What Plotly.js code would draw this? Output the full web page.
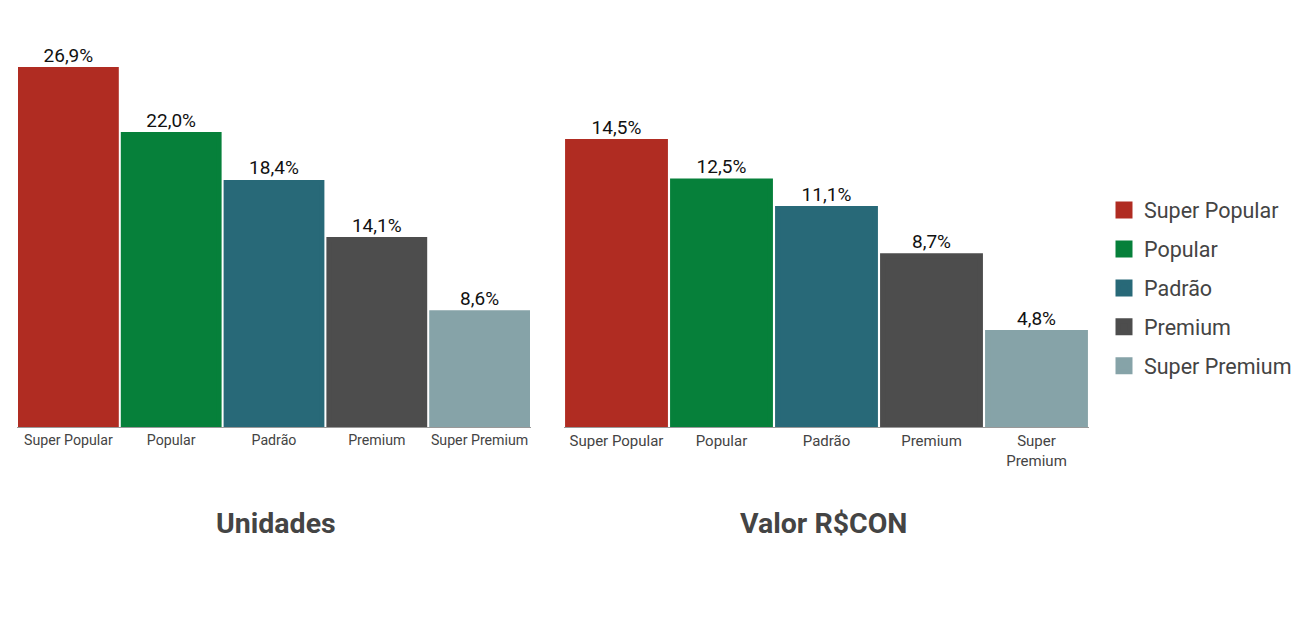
<!DOCTYPE html>
<html>
<head>
<meta charset="utf-8">
<script src="https://cdn.plot.ly/plotly-3.0.1.min.js"></script>
<style>
  body { margin: 0; background: #fff; }
  #chart { width: 1312px; height: 617px; }
</style>
</head>
<body>
<div id="chart"></div>
<script>
// categorias e valores (%)
const categorias = ["Super Popular", "Popular", "Padrão", "Premium", "Super Premium"];
const rotulosValor = ["Super Popular", "Popular", "Padrão", "Premium", "Super<br>Premium"];
const unidades = [26.9, 22.0, 18.4, 14.1, 8.6];
const valorRSCON = [14.5, 12.5, 11.1, 8.7, 4.8];
const cores = ["#B02C22", "#06803A", "#286978", "#4D4D4D", "#86A3A8"];

const data = [];

// um trace por categoria, para a legenda ter as 5 entradas
// (contorno da mesma cor para o quadrado da legenda ficar maior)
categorias.forEach((cat, i) => {
  data.push({
    type: "bar",
    x: [cat],
    y: [unidades[i]],
    name: cat,
    legendgroup: cat,
    marker: { color: cores[i], line: { color: cores[i], width: 5 } },
    texttemplate: "%{y:.1f}%",
    textposition: "outside",
    cliponaxis: true,
    textfont: { family: "Roboto", size: 19, color: "#111" },
    xaxis: "x",
    yaxis: "y",
    hoverinfo: "skip"
  });
});

categorias.forEach((cat, i) => {
  data.push({
    type: "bar",
    x: [cat],
    y: [valorRSCON[i]],
    name: cat,
    legendgroup: cat,
    showlegend: false,
    marker: { color: cores[i], line: { color: cores[i], width: 5 } },
    texttemplate: "%{y:.1f}%",
    textposition: "outside",
    cliponaxis: true,
    textfont: { family: "Roboto", size: 19, color: "#111" },
    xaxis: "x2",
    yaxis: "y2",
    hoverinfo: "skip"
  });
});

const W = 1312, H = 617;
const yDom = [(H - 427) / H, (H - 40) / H];

const layout = {
  width: W,
  height: H,
  margin: { l: 0, r: 0, t: 0, b: 0 },
  paper_bgcolor: "#fff",
  plot_bgcolor: "#fff",
  separators: ",.",
  barmode: "relative",
  bargap: 0.068,
  font: { family: "Roboto", color: "#444" },
  xaxis: {
    domain: [17 / W, 531 / W],
    anchor: "y",
    type: "category",
    categoryarray: categorias,
    tickvals: categorias,
    ticktext: categorias,
    tickfont: { size: 14.2, color: "#444" },
    showline: true,
    linecolor: "#999",
    linewidth: 1,
    showgrid: false,
    zeroline: false,
    automargin: false
  },
  yaxis: {
    domain: yDom,
    anchor: "x",
    range: [0, 29.12],
    visible: false
  },
  xaxis2: {
    domain: [564 / W, 1089 / W],
    anchor: "y2",
    type: "category",
    categoryarray: categorias,
    tickvals: categorias,
    ticktext: rotulosValor,
    tickfont: { size: 15, color: "#444" },
    showline: true,
    linecolor: "#999",
    linewidth: 1,
    showgrid: false,
    zeroline: false,
    automargin: false
  },
  yaxis2: {
    domain: yDom,
    anchor: "x2",
    range: [0, 19.66],
    visible: false
  },
  showlegend: true,
  legend: {
    x: 1104 / W,
    xanchor: "left",
    y: (H - 288) / H,
    yanchor: "middle",
    font: { family: "Roboto", size: 21.5, color: "#444" },
    tracegroupgap: 8,
    bgcolor: "rgba(0,0,0,0)"
  },
  annotations: [
    {
      text: "<b>Unidades</b>",
      xref: "paper", yref: "paper",
      x: 276 / W, y: (H - 523) / H,
      xanchor: "center", yanchor: "middle",
      showarrow: false,
      font: { family: "Roboto", size: 28.5, color: "#444" }
    },
    {
      text: "<b>Valor R$CON</b>",
      xref: "paper", yref: "paper",
      x: 823 / W, y: (H - 523) / H,
      xanchor: "center", yanchor: "middle",
      showarrow: false,
      font: { family: "Roboto", size: 28.5, color: "#444" }
    }
  ]
};

Plotly.newPlot("chart", data, layout, { displayModeBar: false, staticPlot: true });
</script>
</body>
</html>
